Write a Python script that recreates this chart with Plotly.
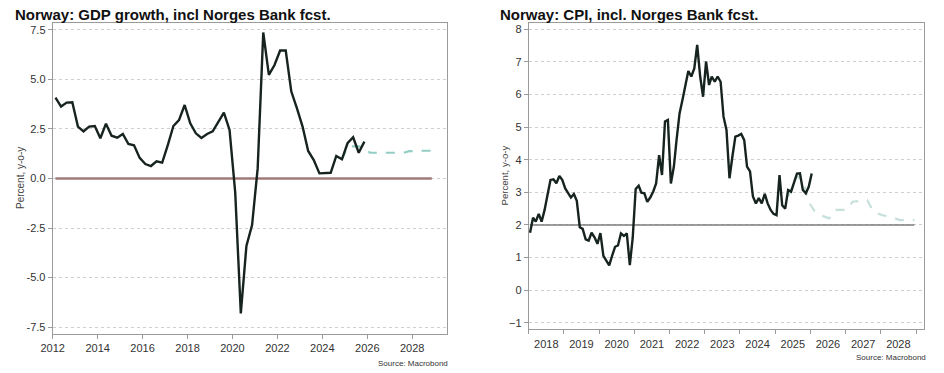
import pandas as pd
import plotly.graph_objects as go

# ---------------- data ----------------
gdp_start_quarter = "2012Q1"
gdp_values = [4.08, 3.63, 3.83, 3.85, 2.62, 2.38, 2.62, 2.65, 2.03, 2.77, 2.16, 2.06,
              2.25, 1.74, 1.68, 1.04, 0.73, 0.63, 0.87, 0.80, 1.69, 2.65, 2.95, 3.71,
              2.79, 2.28, 2.05, 2.25, 2.38, 2.87, 3.32, 2.45, -0.70, -6.81, -3.41, -2.35,
              0.51, 7.37, 5.23, 5.73, 6.46, 6.46, 4.39, 3.54, 2.62, 1.39, 0.93, 0.26,
              0.26, 0.29, 1.14, 0.97, 1.78, 2.08, 1.30, 1.86]
gdp_fcst_start_quarter = "2024Q4"
gdp_fcst_values = [0.97, 1.60, 1.62, 1.62, 1.55, 1.30, 1.30, 1.30, 1.30, 1.30, 1.30,
                   1.30, 1.38, 1.40, 1.40, 1.40, 1.40]
gdp_ref_level = 0.0

cpi_start_month = "2018-01"
cpi_values = [1.76, 2.22, 2.10, 2.34, 2.10, 2.46, 2.92, 3.38, 3.40, 3.28, 3.50, 3.38,
              3.12, 2.95, 2.84, 2.95, 2.74, 1.93, 1.88, 1.56, 1.52, 1.76, 1.62, 1.42,
              1.75, 1.05, 0.90, 0.76, 1.05, 1.33, 1.37, 1.74, 1.66, 1.74, 0.77, 1.60,
              3.10, 3.20, 2.99, 2.97, 2.71, 2.84, 3.02, 3.27, 4.14, 3.53, 5.17, 5.22,
              3.27, 3.79, 4.61, 5.42, 5.83, 6.29, 6.72, 6.55, 6.80, 7.52, 6.55, 5.93,
              7.01, 6.29, 6.55, 6.39, 6.55, 6.39, 5.32, 4.91, 3.43, 4.09, 4.71, 4.74,
              4.79, 4.60, 3.79, 3.64, 2.87, 2.66, 2.82, 2.66, 2.95, 2.66, 2.46, 2.34,
              2.30, 3.53, 2.60, 2.50, 3.07, 3.02, 3.30, 3.57, 3.58, 3.07, 2.97, 3.17,
              3.58]
cpi_fcst_months = ["2025-05", "2025-08", "2025-10", "2025-12", "2026-02", "2026-04",
                   "2026-07", "2026-09", "2027-01", "2027-03", "2027-08", "2027-10",
                   "2028-01", "2028-04", "2028-07", "2028-12"]
cpi_fcst_values = [2.87, 3.50, 3.35, 2.70, 2.42, 2.30, 2.20, 2.46, 2.46, 2.71, 2.76,
                   2.41, 2.30, 2.25, 2.15, 2.15]
cpi_target = 2.0

gdp_yticks = [-7.5, -5.0, -2.5, 0.0, 2.5, 5.0, 7.5]
cpi_yticks = [-1, 0, 1, 2, 3, 4, 5, 6, 7, 8]

# ---------------- helpers ----------------
def mid_quarter(start, n):
    p = pd.period_range(start, periods=n, freq="Q")
    return [(pp.start_time + (pp.end_time - pp.start_time) / 2).strftime("%Y-%m-%d") for pp in p]

def mid_month(start, n):
    p = pd.period_range(start, periods=n, freq="M")
    return [(pp.start_time + pd.Timedelta(days=14)).strftime("%Y-%m-%d") for pp in p]

gdp_x = mid_quarter(gdp_start_quarter, len(gdp_values))
gdp_fx = mid_quarter(gdp_fcst_start_quarter, len(gdp_fcst_values))
cpi_x = mid_month(cpi_start_month, len(cpi_values))
cpi_fx = [(pd.Period(m, freq="M").start_time + pd.Timedelta(days=14)).strftime("%Y-%m-%d")
          for m in cpi_fcst_months]

W, H = 944, 373
def fx(px): return px / W
def fy(py): return 1 - py / H

FONT = "Arial, Liberation Sans, sans-serif"
LINE = "#16231f"
AX = "#9a9a9a"
GRID = "#cfcfcf"

fig = go.Figure()

# left chart
fig.add_trace(go.Scatter(x=[gdp_x[0], gdp_fx[-1]], y=[gdp_ref_level, gdp_ref_level],
                         mode="lines", line=dict(color="#a07a78", width=2.6),
                         xaxis="x", yaxis="y", hoverinfo="skip"))
fig.add_trace(go.Scatter(x=gdp_fx, y=gdp_fcst_values, mode="lines",
                         line=dict(color="#93cdc3", width=2.2, dash="dash"),
                         xaxis="x", yaxis="y"))
fig.add_trace(go.Scatter(x=gdp_x, y=gdp_values, mode="lines",
                         line=dict(color=LINE, width=2.4),
                         xaxis="x", yaxis="y"))

# right chart
fig.add_trace(go.Scatter(x=[cpi_x[0], cpi_fx[-1]], y=[cpi_target, cpi_target],
                         mode="lines", line=dict(color="#7d7d7d", width=1.6),
                         xaxis="x2", yaxis="y2", hoverinfo="skip"))
fig.add_trace(go.Scatter(x=cpi_fx, y=cpi_fcst_values, mode="lines",
                         line=dict(color="#c6e0dc", width=2.2, dash="dash"),
                         xaxis="x2", yaxis="y2"))
fig.add_trace(go.Scatter(x=cpi_x, y=cpi_values, mode="lines",
                         line=dict(color=LINE, width=2.4),
                         xaxis="x2", yaxis="y2"))

common_ax = dict(showline=True, linecolor=AX, linewidth=1, mirror=True,
                 ticks="outside", tickcolor=AX, ticklen=4, zeroline=False,
                 automargin=False,
                 tickfont=dict(family=FONT, size=11, color="#333333"))

fig.update_layout(
    width=W, height=H, margin=dict(l=0, r=0, t=0, b=0),
    paper_bgcolor="white", plot_bgcolor="white", showlegend=False,
    font=dict(family=FONT, color="#333333"),
    xaxis=dict(domain=[fx(52.7), fx(446.7)], anchor="y", type="date",
               range=["2012-01-01", "2029-07-15"], tick0="2012-01-01", dtick="M24",
               tickformat="%Y", showgrid=False, **common_ax),
    yaxis=dict(domain=[fy(334), fy(23)], anchor="x", range=[-7.85, 7.85],
               tickvals=gdp_yticks, ticktext=[f"{v:.1f}" for v in gdp_yticks],
               showgrid=True, gridcolor=GRID, griddash="dot", gridwidth=1,
               **common_ax),
    xaxis2=dict(domain=[fx(528.7), fx(924)], anchor="y2", type="date",
                range=["2018-01-01", "2029-03-25"], tick0="2018-01-01", dtick="M12",
                tickformat="%Y", ticklabelmode="period", showgrid=False, **common_ax),
    yaxis2=dict(domain=[fy(329.3), fy(22.7)], anchor="x2", range=[-1.2, 8.2],
                tickvals=cpi_yticks, showgrid=True, gridcolor=GRID, griddash="dot",
                gridwidth=1, **common_ax),
)

# y-axis titles
fig.add_annotation(x=fx(20), y=fy(178), xref="paper", yref="paper", xanchor="center",
                   yanchor="middle", showarrow=False, textangle=-90, text="Percent, y-o-y",
                   font=dict(family=FONT, size=10, color="#444444"))
fig.add_annotation(x=fx(503.5), y=fy(176), xref="paper", yref="paper", xanchor="center",
                   yanchor="middle", showarrow=False, textangle=-90, text="Percent, y-o-y",
                   font=dict(family=FONT, size=9.6, color="#444444"))

# chart titles
fig.add_annotation(x=fx(13), y=fy(14), xref="paper", yref="paper", xanchor="left",
                   yanchor="middle", showarrow=False,
                   text="<b>Norway: GDP growth, incl Norges Bank fcst.</b>",
                   font=dict(family=FONT, size=15, color="#111111"))
fig.add_annotation(x=fx(498), y=fy(14), xref="paper", yref="paper", xanchor="left",
                   yanchor="middle", showarrow=False,
                   text="<b>Norway: CPI, incl. Norges Bank fcst.</b>",
                   font=dict(family=FONT, size=15, color="#111111"))

# sources
fig.add_annotation(x=fx(450), y=fy(363), xref="paper", yref="paper", xanchor="right",
                   yanchor="middle", showarrow=False, text="Source: Macrobond",
                   font=dict(family=FONT, size=8, color="#333333"))
fig.add_annotation(x=fx(928), y=fy(357), xref="paper", yref="paper", xanchor="right",
                   yanchor="middle", showarrow=False, text="Source: Macrobond",
                   font=dict(family=FONT, size=8, color="#333333"))

fig.write_html("out.html", config={"displayModeBar": False},
               post_script="document.body.style.margin='0';")
